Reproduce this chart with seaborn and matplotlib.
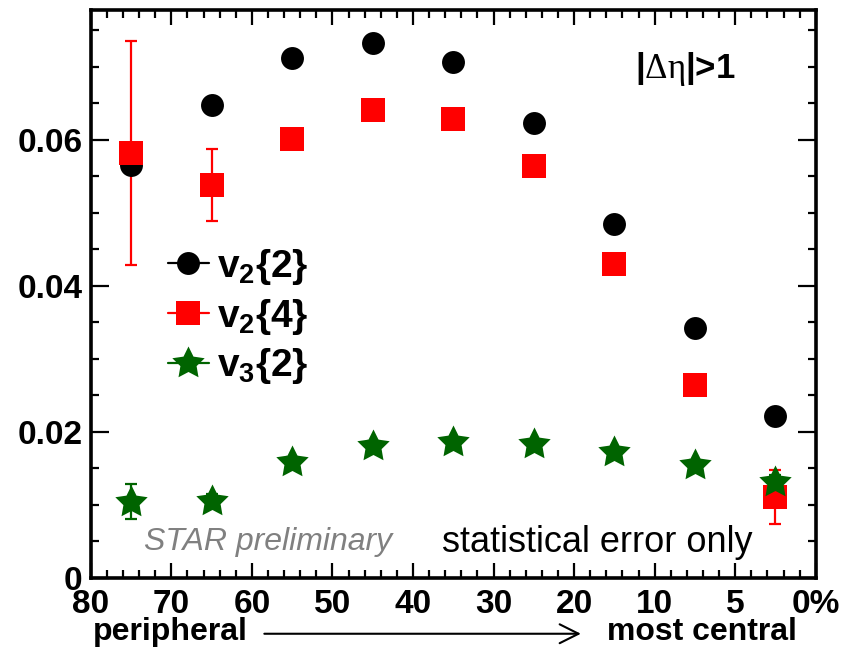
import numpy as np
import pandas as pd
import matplotlib
matplotlib.use("Agg")
import matplotlib.pyplot as plt
from matplotlib.path import Path
from matplotlib.lines import Line2D
import seaborn as sns

# ---- data ----
cent_hi = [80, 70, 60, 50, 40, 30, 20, 10, 5]
cent_lo = [70, 60, 50, 40, 30, 20, 10, 5, 0]
edge_labels = ["80", "70", "60", "50", "40", "30", "20", "10", "5", "0%"]

v22 = [0.0566, 0.0647, 0.0712, 0.0733, 0.0707, 0.0623, 0.0485, 0.0342, 0.0221]
v22_err = [0.0008, 0.0005, 0.0004, 0.0004, 0.0004, 0.0004, 0.0004, 0.0004, 0.0005]
v24 = [0.0582, 0.0538, 0.0601, 0.0641, 0.0629, 0.0564, 0.0430, 0.0264, 0.0111]
v24_err = [0.0153, 0.0049, 0.0010, 0.0008, 0.0008, 0.0008, 0.0008, 0.0010, 0.0037]
v32 = [0.0104, 0.0105, 0.0158, 0.0181, 0.0186, 0.0183, 0.0172, 0.0154, 0.0131]
v32_err = [0.0024, 0.0010, 0.0008, 0.0006, 0.0006, 0.0006, 0.0006, 0.0007, 0.0010]

sns.set_style("ticks")
plt.rcParams["font.family"] = ["Liberation Sans", "DejaVu Sans"]
plt.rcParams["mathtext.fontset"] = "custom"
plt.rcParams["mathtext.rm"] = "Liberation Serif"
plt.rcParams["mathtext.it"] = "Liberation Serif"
plt.rcParams["mathtext.bf"] = "Liberation Sans:bold"
for k in ["text.color", "axes.labelcolor", "xtick.color", "ytick.color", "axes.edgecolor"]:
    plt.rcParams[k] = "black"

# bin index positions (non-linear centrality axis)
nbins = len(cent_hi)
xpos = np.arange(nbins) + 0.5

df = pd.DataFrame({"x": np.concatenate([xpos] * 3),
                   "y": np.concatenate([v22, v24, v32]),
                   "err": np.concatenate([v22_err, v24_err, v32_err]),
                   "series": ["v22"] * nbins + ["v24"] * nbins + ["v32"] * nbins})

# fat ROOT-like star
ang = np.pi / 2 + np.arange(10) * np.pi / 5
rad = np.where(np.arange(10) % 2 == 0, 1.0, 0.5)
verts = np.column_stack([rad * np.cos(ang), rad * np.sin(ang)])
verts = np.vstack([verts, verts[:1]])
star = Path(verts, closed=True)

fig = plt.figure(figsize=(8.41, 6.5), dpi=100)
ax = fig.add_axes([0.108, 0.111, 0.862, 0.874])

colors = {"v22": "black", "v24": "#ff0000", "v32": "#006400"}
markers = {"v22": "o", "v24": "s", "v32": star}
sizes = {"v22": 16.5, "v24": 17.3, "v32": 24.5}

for s in ["v22", "v24", "v32"]:
    d = df[df.series == s]
    ax.errorbar(d.x, d.y, yerr=d.err, fmt="none", ecolor=colors[s],
                elinewidth=1.6, capsize=4.5, capthick=1.6, zorder=2)
    sns.scatterplot(data=d, x="x", y="y", ax=ax, color=colors[s],
                    marker=markers[s], s=sizes[s] ** 2, linewidth=0,
                    edgecolor=colors[s], legend=False, zorder=3)

ax.set_xlim(0, nbins)
ax.set_ylim(0, 0.0778)
ax.set_xlabel("")
ax.set_ylabel("")

ax.set_xticks(np.arange(nbins + 1))
ax.set_xticklabels(edge_labels)
ax.set_xticks(np.arange(0, nbins, 0.2), minor=True)
ax.set_yticks([0, 0.02, 0.04, 0.06])
ax.set_yticklabels(["0", "0.02", "0.04", "0.06"])
ax.set_yticks(np.arange(0, 0.078, 0.005), minor=True)

for lab in ax.get_xticklabels() + ax.get_yticklabels():
    lab.set_fontweight("bold")
    lab.set_fontsize(24)
    lab.set_color("black")

ax.tick_params(which="both", direction="in", top=True, right=True, width=1.6, color="black")
ax.tick_params(axis="y", which="major", length=13, pad=6)
ax.tick_params(axis="y", which="minor", length=6)
ax.tick_params(axis="x", which="major", length=11, pad=8)
ax.tick_params(axis="x", which="minor", length=5.5)
for sp in ax.spines.values():
    sp.set_linewidth(2.6)
    sp.set_color("black")

# legend
handles = [
    Line2D([], [], color="black", marker="o", markersize=sizes["v22"], linewidth=1.6, markeredgewidth=0),
    Line2D([], [], color="#ff0000", marker="s", markersize=sizes["v24"], linewidth=1.6, markeredgewidth=0),
    Line2D([], [], color="#006400", marker=star, markersize=sizes["v32"], linewidth=1.6, markeredgewidth=0),
]
labels = [r"$\mathbf{v_{2}\{2\}}$", r"$\mathbf{v_{2}\{4\}}$", r"$\mathbf{v_{3}\{2\}}$"]
ax.legend(handles, labels, loc="upper left", bbox_to_anchor=(0.085, 0.61),
          frameon=False, fontsize=28, handlelength=1.05, handletextpad=0.22,
          labelspacing=0.25, borderaxespad=0)

# annotations
ax.text(0.750, 0.895, r"$\mathbf{|}\Delta\eta\mathbf{|}$>1", transform=ax.transAxes,
        fontsize=25, fontweight="bold", ha="left", va="center")
ax.text(0.073, 0.063, "STAR preliminary", transform=ax.transAxes, fontsize=23,
        style="italic", color="#808080", ha="left", va="center")
ax.text(0.485, 0.063, "statistical error only", transform=ax.transAxes, fontsize=26,
        color="black", ha="left", va="center")

fig.text(0.110, 0.027, "peripheral", fontsize=23, fontweight="bold", ha="left", va="center")
fig.text(0.948, 0.027, "most central", fontsize=23, fontweight="bold", ha="right", va="center")
fig.add_artist(plt.Annotation("", xy=(0.694, 0.025), xytext=(0.311, 0.025),
                              xycoords="figure fraction", textcoords="figure fraction",
                              arrowprops=dict(arrowstyle="->", lw=1.5, color="black",
                                              mutation_scale=34)))

fig.savefig("out.png", dpi=100)
